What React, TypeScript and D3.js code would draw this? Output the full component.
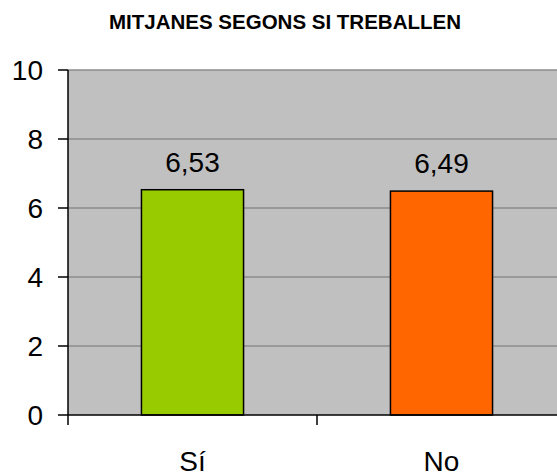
import React, { useEffect, useRef } from "react";
import * as d3 from "d3";

const categories = ["Sí", "No"];
const values = [6.53, 6.49];
const barColors = ["#99CC00", "#FF6600"];
const yTicks = [0, 2, 4, 6, 8, 10];

const WIDTH = 557;
const HEIGHT = 475;
const MARGIN = { TOP: 70, LEFT: 68, BOTTOM: 60, RIGHT: -9 };
const FONT = "'Liberation Sans', Arial, sans-serif";

const App = () => {
  const ref = useRef<SVGSVGElement>(null);

  useEffect(() => {
    const svg = d3.select(ref.current);
    svg.selectAll("*").remove();

    const innerW = WIDTH - MARGIN.LEFT - MARGIN.RIGHT;
    const innerH = HEIGHT - MARGIN.TOP - MARGIN.BOTTOM;

    const x = d3.scaleBand().domain(categories).range([0, innerW]).paddingInner(0).paddingOuter(0);
    const y = d3.scaleLinear().domain([0, 10]).range([innerH, 0]);

    svg
      .append("text")
      .attr("x", 285)
      .attr("y", 29)
      .attr("text-anchor", "middle")
      .attr("font-family", FONT)
      .attr("font-weight", "bold")
      .attr("font-size", 20.5)
      .text("MITJANES SEGONS SI TREBALLEN");

    const g = svg.append("g").attr("transform", `translate(${MARGIN.LEFT},${MARGIN.TOP})`);

    g.append("rect")
      .attr("width", innerW)
      .attr("height", innerH)
      .attr("fill", "#C0C0C0");

    g.selectAll(".grid")
      .data(yTicks.filter((t) => t > 0))
      .enter()
      .append("line")
      .attr("x1", 0)
      .attr("x2", innerW)
      .attr("y1", (d) => y(d))
      .attr("y2", (d) => y(d))
      .attr("stroke", "#8C8C8C")
      .attr("stroke-width", 1.5);

    const bw = x.bandwidth() * 0.41;
    g.selectAll(".bar")
      .data(values)
      .enter()
      .append("rect")
      .attr("x", (d, i) => x(categories[i])! + (x.bandwidth() - bw) / 2)
      .attr("y", (d) => y(d))
      .attr("width", bw)
      .attr("height", (d) => innerH - y(d))
      .attr("fill", (d, i) => barColors[i])
      .attr("stroke", "#000")
      .attr("stroke-width", 1.5);

    g.selectAll(".lbl")
      .data(values)
      .enter()
      .append("text")
      .attr("x", (d, i) => x(categories[i])! + x.bandwidth() / 2)
      .attr("y", (d) => y(d) - 18)
      .attr("text-anchor", "middle")
      .attr("font-family", FONT)
      .attr("font-size", 28)
      .text((d) => d.toFixed(2).replace(".", ","));

    // y axis
    g.append("line")
      .attr("x1", 0)
      .attr("x2", 0)
      .attr("y1", 0)
      .attr("y2", innerH)
      .attr("stroke", "#000")
      .attr("stroke-width", 1.5);
    g.selectAll(".ytick")
      .data(yTicks)
      .enter()
      .append("line")
      .attr("x1", -10)
      .attr("x2", 0)
      .attr("y1", (d) => y(d))
      .attr("y2", (d) => y(d))
      .attr("stroke", "#000")
      .attr("stroke-width", 1.5);
    g.selectAll(".ylab")
      .data(yTicks)
      .enter()
      .append("text")
      .attr("x", -25)
      .attr("y", (d) => y(d) + 10)
      .attr("text-anchor", "end")
      .attr("font-family", FONT)
      .attr("font-size", 28)
      .text((d) => d);

    // x axis
    g.append("line")
      .attr("x1", 0)
      .attr("x2", innerW)
      .attr("y1", innerH)
      .attr("y2", innerH)
      .attr("stroke", "#000")
      .attr("stroke-width", 1.5);
    const bounds = [0, ...categories.map((c) => x(c)! + x.bandwidth())];
    g.selectAll(".xtick")
      .data(bounds)
      .enter()
      .append("line")
      .attr("x1", (d) => d)
      .attr("x2", (d) => d)
      .attr("y1", innerH)
      .attr("y2", innerH + 10)
      .attr("stroke", "#000")
      .attr("stroke-width", 1.5);
    g.selectAll(".xlab")
      .data(categories)
      .enter()
      .append("text")
      .attr("x", (d) => x(d)! + x.bandwidth() / 2)
      .attr("y", innerH + 56)
      .attr("text-anchor", "middle")
      .attr("font-family", FONT)
      .attr("font-size", 28)
      .text((d) => d);
  }, []);

  return (
    <svg
      ref={ref}
      width={WIDTH}
      height={HEIGHT}
      style={{ position: "absolute", left: 0, top: 0, background: "#fff" }}
    />
  );
};

export default App;
